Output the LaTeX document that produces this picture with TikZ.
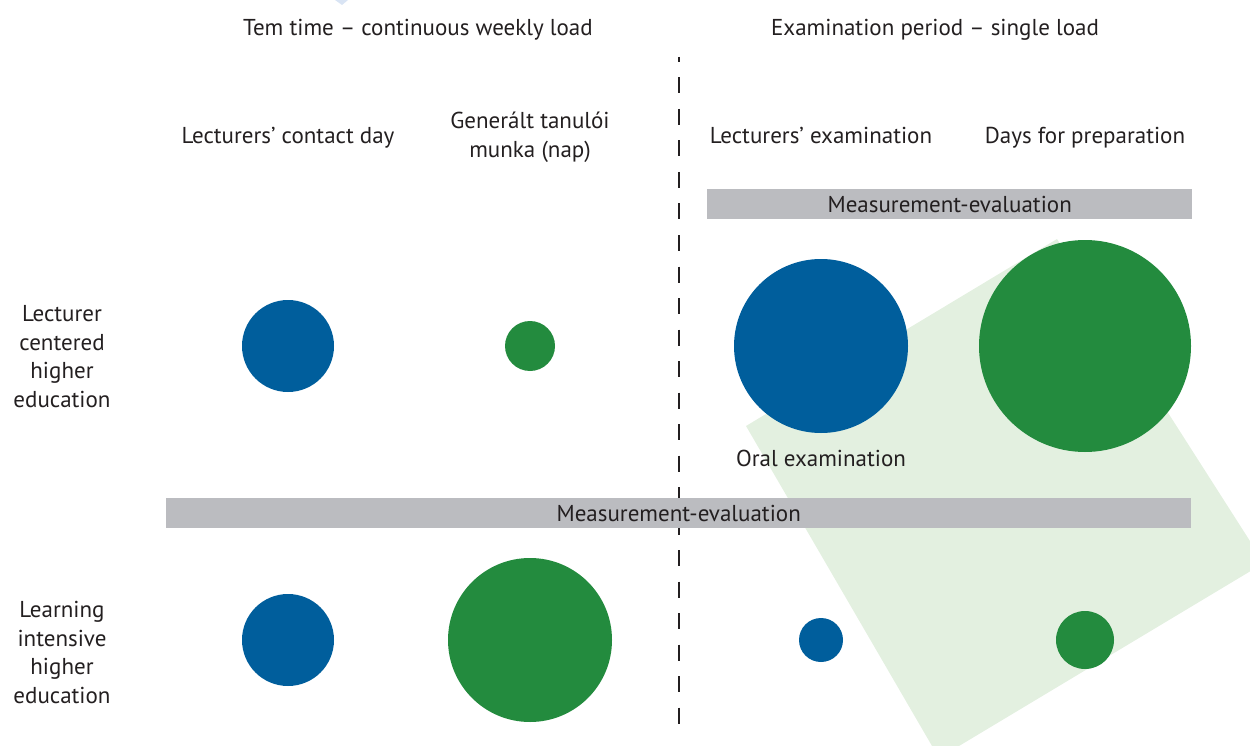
\documentclass[tikz,border=0pt]{standalone}
\usepackage{fontspec}
\setmainfont{PT Sans}
\definecolor{ink}{HTML}{231F20}
\definecolor{dotblue}{HTML}{005E9C}
\definecolor{dotgreen}{HTML}{238B3E}
\definecolor{bargray}{HTML}{BBBCC0}
\definecolor{palegreen}{HTML}{E3F0E0}
\definecolor{paleblue}{HTML}{D9E4F4}
\begin{document}
\begin{tikzpicture}[x=1pt,y=-1pt,
  lbl/.style={text=ink, font=\fontsize{23}{28.7}\selectfont, inner sep=0pt, align=center},
  dot/.style={circle, inner sep=0pt, minimum size=#1},
  bluedot/.style={dot=#1, fill=dotblue},
  greendot/.style={dot=#1, fill=dotgreen},
  barbox/.style={fill=bargray, inner sep=0pt, anchor=north west},
  divider/.style={ink, line width=2.8pt, dash pattern=on 16pt off 15.5pt, dash phase=11pt},
]
\useasboundingbox (0,0) rectangle (1250,746);
\clip (0,0) rectangle (1250,746);

% pale background shapes
\fill[palegreen] (746,426) -- (1057,239) -- (1264,563) -- (939,758) -- cycle;
\fill[paleblue] (335,0) -- (348,0) -- (342,5) -- cycle;

% divider between term time and examination period
\coordinate (dtop) at (679,57);
\coordinate (dbot) at (679,724);
\draw[divider] (dtop) -- (dbot);

% measurement-evaluation bars
\node[barbox, minimum width=485pt, minimum height=30pt] (bartop) at (707,189) {};
\node[barbox, minimum width=1025pt, minimum height=30pt] (barbot) at (166,498) {};
\node[lbl, anchor=base] (bartoptxt) at ([yshift=-8.5pt]bartop.center) {Measurement-evaluation};
\node[lbl, anchor=base] (barbottxt) at ([yshift=-8.5pt]barbot.center) {Measurement-evaluation};

% period titles
\node[lbl, anchor=base] (term) at (418,36) {Tem time – continuous weekly load};
\node[lbl, anchor=base] (exam) at (935,36) {Examination period – single load};

% column headers
\node[lbl, anchor=base] (hcontact) at (288,143.5) {Lecturers’ contact day};
\node[lbl] (hgen) at (530,137) {Generált tanulói\\munka (nap)};
\node[lbl, anchor=base] (hexam) at (821,143.5) {Lecturers’ examination};
\node[lbl, anchor=base] (hprep) at (1085,143.5) {Days for preparation};

% row headers
\node[lbl] (rlect) at (62,356.5) {Lecturer\\centered\\higher\\education};
\node[lbl] (rlearn) at (62,652.5) {Learning\\intensive\\higher\\education};

% lecturer centered row
\node[bluedot=92pt] (c11) at (288,346) {};
\node[greendot=50pt] (c12) at (530,346) {};
\node[bluedot=174pt] (c13) at (821,346) {};
\node[greendot=212pt] (c14) at (1085,346) {};
\node[lbl, anchor=base] (oral) at (821,466) {Oral examination};

% learning intensive row
\node[bluedot=92pt] (c21) at (288,640) {};
\node[greendot=164pt] (c22) at (530,640) {};
\node[bluedot=44pt] (c23) at (821,640) {};
\node[greendot=58pt] (c24) at (1085,640) {};
\end{tikzpicture}
\end{document}
